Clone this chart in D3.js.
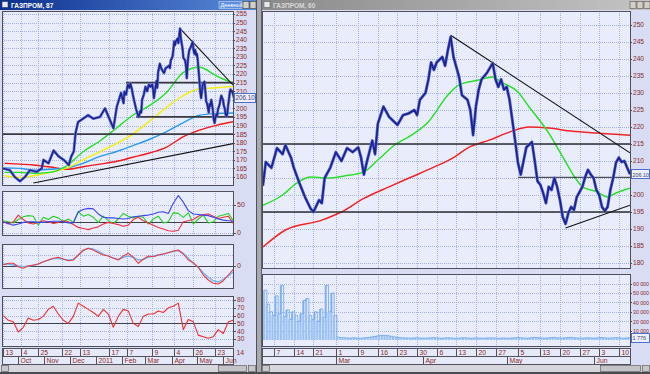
<!DOCTYPE html>
<html><head><meta charset="utf-8">
<script src="https://cdn.jsdelivr.net/npm/d3@7"></script>
<style>
html,body{margin:0;padding:0;background:#d9ddf3;overflow:hidden;}
svg{display:block;}
text{font-family:"Liberation Sans",Arial,sans-serif;}
</style></head><body>
<svg id="c" width="650" height="374"></svg>
<script>
// ================= DATA =================
const priceDates=["2010-09-13","2010-09-21","2010-09-27","2010-10-03","2010-10-09","2010-10-15","2010-10-23","2010-10-29","2010-10-31","2010-11-06","2010-11-12","2010-11-18","2010-11-24","2010-11-30","2010-12-03","2010-12-06","2010-12-08","2010-12-11","2010-12-17","2010-12-23","2010-12-29","2011-01-06","2011-01-12","2011-01-18","2011-01-22","2011-01-26","2011-01-31","2011-02-03","2011-02-04","2011-02-06","2011-02-08","2011-02-10","2011-02-11","2011-02-13","2011-02-14","2011-02-16","2011-02-18","2011-02-20","2011-02-21","2011-02-23","2011-02-24","2011-02-25","2011-02-27","2011-03-01","2011-03-03","2011-03-05","2011-03-07","2011-03-09","2011-03-10","2011-03-11","2011-03-12","2011-03-14","2011-03-15","2011-03-16","2011-03-18","2011-03-20","2011-03-23","2011-03-25","2011-03-27","2011-03-29","2011-03-30","2011-03-31","2011-04-02","2011-04-03","2011-04-04","2011-04-05","2011-04-06","2011-04-08","2011-04-09","2011-04-10","2011-04-11","2011-04-12","2011-04-14","2011-04-15","2011-04-17","2011-04-18","2011-04-19","2011-04-20","2011-04-21","2011-04-22","2011-04-24","2011-04-26","2011-04-27","2011-04-28","2011-04-29","2011-04-30","2011-05-01","2011-05-02","2011-05-03","2011-05-04","2011-05-05","2011-05-06","2011-05-07","2011-05-08","2011-05-10","2011-05-11","2011-05-12","2011-05-13","2011-05-14","2011-05-15","2011-05-16","2011-05-17","2011-05-18","2011-05-19","2011-05-20","2011-05-21","2011-05-22","2011-05-23","2011-05-24","2011-05-25","2011-05-26","2011-05-28","2011-05-29","2011-05-30","2011-05-31","2011-06-01","2011-06-02","2011-06-03","2011-06-04","2011-06-05","2011-06-06","2011-06-07","2011-06-08","2011-06-09","2011-06-10","2011-06-11","2011-06-12","2011-06-13","2011-06-14"];
const priceClose=[165,164,160,157.5,160,164,163,165,170,168,175.5,172,170,167,172,175,185.5,192,194,196,194,195,200,193,188.5,201,209,203,209.7,208,213.8,212,214.7,211,208,203.5,199.4,196,195,198.5,197.6,205,208,212.6,210,213.8,212.6,214,211,206,209.5,216,212,221,226,223,220.6,223.5,224,225,223.5,228,230,233.8,239,236.8,239,240.6,238,242.6,246.5,240.6,234.7,229.4,228,225,217.6,226,231,234,236,238.8,234,231.8,234,231,231.8,228,222,216,209.5,206,210,214,215.6,210,204,203,200.6,197.6,202.4,201.5,205,202.4,198.5,193.5,191.5,194.7,196.5,195.6,199.4,202.4,205.3,207.4,206,205,201.5,200,196.5,195.3,196.5,201.5,205,209.5,211,209.7,210,208,206.1];

const leftMaDates=["2010-09-15","2010-10-03","2010-10-19","2010-11-08","2010-11-28","2010-12-17","2011-01-06","2011-01-25","2011-02-14","2011-03-06","2011-03-26","2011-04-15","2011-05-04","2011-05-24","2011-06-13"];
const leftMaRed=[168,167.5,167,165.8,164.5,166,167.5,169,171.5,174,177.4,183.5,187.3,190.1,192.2];
const leftMaBlue=[165.3,165,164,164.5,165.3,168,172,174.7,178.3,182,186.5,191.7,196,197,197.3];
const leftMaYellow=[160.7,159.7,160.7,162.7,165.3,170,174.7,179.3,185,192.6,200.6,207.5,211.4,212,212.8];
const leftMaGreen=[162.7,162.7,162.2,162.7,166.7,174.7,181,188.3,196,201.7,209.3,221,224,219,214.7];

const rightGreenDates=["2011-02-03","2011-02-10","2011-02-15","2011-02-20","2011-02-26","2011-03-04","2011-03-11","2011-03-16","2011-03-22","2011-03-28","2011-04-03","2011-04-10","2011-04-14","2011-04-21","2011-04-26","2011-04-29","2011-05-05","2011-05-09","2011-05-14","2011-05-16","2011-05-21","2011-05-26","2011-05-28","2011-06-02","2011-06-06","2011-06-09","2011-06-14"];
const rightMaGreen=[197,200,203.5,205.3,205,205.6,206.8,210.3,214.7,217.6,221.5,229.4,232.4,233.8,234.7,233.2,230.3,225.9,220.6,218.2,211.2,204.4,202.4,201,199.4,200.6,202];
const rightRedDates=["2011-02-03","2011-02-11","2011-02-24","2011-03-03","2011-03-11","2011-03-20","2011-03-28","2011-04-05","2011-04-12","2011-04-17","2011-04-25","2011-05-02","2011-05-09","2011-05-16","2011-05-24","2011-06-02","2011-06-14"];
const rightMaRed=[184.7,189.7,192.6,195,199,202.4,205.3,208.2,211,213.8,216.2,218.5,220,219.7,218.8,218.2,217.6];

// support / resistance levels and trend lines
const leftLevels=[{v:185,from:"2010-09-13"},{v:215,from:"2011-02-06"},{v:195,from:"2011-02-18"}];
const leftTrends=[[["2011-04-10",247],["2011-06-14",213]],[["2010-10-19",156.5],["2011-06-14",179.6]]];
const rightLevels=[{v:215,from:"2011-02-03"},{v:195,from:"2011-02-03"},{v:205.2,from:"2011-05-05",thin:true}];
const rightTrends=[[["2011-04-11",247],["2011-06-14",212.4]],[["2011-05-22",190.3],["2011-06-14",197]]];

// left indicator panes, 47 evenly spaced samples across the left window
const dmiBlue=[20,17,14,16,19,20,20,19,19,20,21,21,20,18,18,38,42,44,43,34,28,27,27,26,25,26,29,30,31,32,34,37,38,35,53,67,55,40,34,33,32,31,28,25,23,22,21];
const dmiGreen=[22,20,18,24,29,31,30,14,28,24,30,27,20,25,19,38,30,33,28,19,30,22,17,25,35,30,27,30,28,16,25,30,18,20,36,35,28,36,16,25,32,18,20,30,32,35,22];
const dmiRed=[20,16,20,32,24,18,16,19,22,20,17,19,22,20,15,10,8,6,9,11,16,19,17,15,12,14,24,28,22,18,14,10,7,4,3,5,20,22,24,30,33,34,30,26,28,30,17];
const macdRed=[1,2.7,2.7,-0.7,-2.3,0,1,2,4.3,6,7.7,8.7,7,5.3,6,11,16,17.7,16,13.3,11,10,7.7,6,10,12.7,8.7,2.7,6.7,10,9.3,11,12,13.3,15,16,12,6,3.3,-1.3,-9,-14,-17.3,-18,-14.7,-9,-3.3];
const macdBlue=[2,2,1,0,-0.7,0,0.7,2,4,6,7.3,7.3,6.7,6,6.7,11,15.3,17.7,17,14.7,12,10,8,6.7,8.7,10,8.7,6,6.7,8.7,10,11,12,13.3,14.7,15.3,12.7,7.7,2.7,-1.3,-6.7,-11.3,-14.7,-16,-13.3,-10,-6];
const rsiRed=[60,54,52,39,45,57,54,55,59,68,72,62,54,50,59,76,72,68,64,59,68,62,45,59,68,66,50,46,59,62,62,66,64,70,72,76,42,55,52,35,33,31,33,42,37,52,54];

// right volume, daily from Feb 3 2011
const volumeStart="2011-02-03";
const volumes=[53000,38000,30000,26000,47000,28000,58000,25000,32000,22000,30000,26000,20000,28000,42000,44000,26000,22000,30000,20000,33000,24000,58000,30000,50000,26000,
3000,2600,2400,2200,2000,2100,2300,2000,1900,2200,2500,2800,3200,3800,4300,4700,4900,4800,4400,3900,3300,2800,2500,2300,2200,2100,2000,2200,2400,2200,2000,
2100,2000,2300,2500,2200,2000,1900,2100,2300,2200,2000,1800,2000,2200,2400,2100,1900,2000,2200,2100,2000,1900,2100,2300,2200,2000,1800,2000,2100,2000,
1900,2100,2300,2600,2400,2200,2000,2100,2500,2800,2600,2300,2100,2000,2200,2500,2700,2400,2200,2000,2300,2600,2800,2500,2200,2000,1900,2100,2300,2200,2000,
2100,2400,2600,2300,2100,2000,2200,2500,2300,2100,2000,2200,2400,2300];

// axis ticks
const leftTickDates=["2010-09-13","2010-10-04","2010-10-25","2010-11-22","2010-12-13","2011-01-17","2011-02-07","2011-03-09","2011-04-04","2011-04-26","2011-05-23","2011-06-14"];
const leftTickLabels=["13","4","25","22","13","17","7","9","4","26","23","14"];
const leftMonthDates=["2010-10-01","2010-11-01","2010-12-01","2011-01-01","2011-02-01","2011-03-01","2011-04-01","2011-05-01","2011-06-01"];
const leftMonthLabels=["Oct","Nov","Dec","2011","Feb","Mar","Apr","May","Jun"];
const rightTickDates=["2011-02-07","2011-02-14","2011-02-21","2011-03-01","2011-03-09","2011-03-16","2011-03-23","2011-03-30","2011-04-06","2011-04-13","2011-04-20","2011-04-27","2011-05-05","2011-05-13","2011-05-20","2011-05-27","2011-06-03","2011-06-10"];
const rightTickLabels=["7","14","21","1","9","16","23","30","6","13","20","27","5","13","20","27","3","10"];
const rightMonthDates=["2011-03-01","2011-04-01","2011-05-01","2011-06-01"];
const rightMonthLabels=["Mar","Apr","May","Jun"];
const leftPriceTicks=d3.range(160,256,5);
const rightPriceTicks=d3.range(180,251,5);
const volumeTicks=[10000,20000,30000,40000,50000,60000];
const rsiTicks=[30,40,50,60,70,80];
const lastPrice=206.10, lastVolume="1 776";

// ================= DRAW =================
const P=d3.timeParse("%Y-%m-%d");
const svg=d3.select("#c");
const defs=svg.append("defs");
const LBL="#8a2a2a", GRID="#a3b3e6";

let gradA=defs.append("linearGradient").attr("id","tA");
gradA.append("stop").attr("offset","0").attr("stop-color","#0c2f8f");
gradA.append("stop").attr("offset","1").attr("stop-color","#5a8ad8");
let gradI=defs.append("linearGradient").attr("id","tI");
gradI.append("stop").attr("offset","0").attr("stop-color","#8a8a8a");
gradI.append("stop").attr("offset","1").attr("stop-color","#c4c4c4");

svg.append("rect").attr("width",650).attr("height",374).attr("fill","#d9ddf3");

let clipN=0;
function clipRect(x0,y0,x1,y1){const id="cp"+(clipN++);defs.append("clipPath").attr("id",id).append("rect").attr("x",x0).attr("y",y0).attr("width",x1-x0).attr("height",y1-y0);return `url(#${id})`;}
function pane(x0,y0,x1,y1){
  svg.append("rect").attr("x",x0+.5).attr("y",y0+.5).attr("width",x1-x0-1).attr("height",y1-y0-1)
    .attr("fill","#e9edfb").attr("stroke","#4e4e5c").attr("stroke-width",1);
  return svg.append("g").attr("clip-path",clipRect(x0+1,y0+1,x1-1,y1-1));
}
function hGrid(g,x0,x1,ys){g.selectAll(null).data(ys).join("line").attr("x1",x0).attr("x2",x1).attr("y1",d=>Math.round(d)+.5).attr("y2",d=>Math.round(d)+.5).attr("stroke",GRID).attr("stroke-dasharray","1,1");}
function vGrid(g,y0,y1,xs){g.selectAll(null).data(xs).join("line").attr("y1",y0).attr("y2",y1).attr("x1",d=>Math.round(d)+.5).attr("x2",d=>Math.round(d)+.5).attr("stroke",GRID).attr("stroke-dasharray","1,1");}
// right-side value labels; a label hidden by the last-value box is not drawn (as in the reference)
function rLabels(x,ys,texts,fs,hideY){
  ys.forEach((y,i)=>{
    svg.append("line").attr("x1",x-3).attr("x2",x-1).attr("y1",Math.round(y)+.5).attr("y2",Math.round(y)+.5).attr("stroke","#505060");
    if(hideY!=null&&Math.abs(y-hideY)<6)return;
    svg.append("text").attr("x",x).attr("y",y+2.4).attr("font-size",fs||7).attr("fill",LBL).text(texts[i]);
  });
}
function drawLine(g,xs,ys,color,w,curve){
  const pts=xs.map((x,i)=>[x,ys[i]]);
  g.append("path").attr("d",d3.line().curve(curve||d3.curveLinear)(pts)).attr("fill","none").attr("stroke",color).attr("stroke-width",w).attr("stroke-linejoin","round");
}
function valueBox(x0,x1,y,txt,fs){
  svg.append("rect").attr("x",x0+.5).attr("y",Math.round(y)-4.5).attr("width",x1-x0-1).attr("height",9).attr("fill","#eef0fc").attr("stroke","#4d6fd0");
  svg.append("text").attr("x",x0+1.5).attr("y",y+2.3).attr("font-size",fs).attr("fill","#404070").text(txt);
}

// ---------- LEFT WINDOW ----------
const xL=d3.scaleTime().domain([P("2010-09-13"),P("2011-06-14")]).range([3,234]);
const yL=d3.scaleLinear().domain([160,255]).range([177,14]);
const leftTickX=leftTickDates.map(d=>xL(P(d)));

let g=pane(2,11,234,186);
hGrid(g,2,234,leftPriceTicks.map(yL));
vGrid(g,11,186,leftTickX);
const lmx=leftMaDates.map(d=>xL(P(d)));
drawLine(g,lmx,leftMaRed.map(yL),"#f01818",1.4,d3.curveMonotoneX);
drawLine(g,lmx,leftMaBlue.map(yL),"#2a9af0",1.4,d3.curveMonotoneX);
drawLine(g,lmx,leftMaYellow.map(yL),"#f4f000",1.4,d3.curveMonotoneX);
drawLine(g,lmx,leftMaGreen.map(yL),"#22e022",1.4,d3.curveMonotoneX);
leftLevels.forEach(l=>g.append("line").attr("x1",xL(P(l.from))).attr("x2",234).attr("y1",yL(l.v)).attr("y2",yL(l.v)).attr("stroke","#3a3a40").attr("stroke-width",1.8));
leftTrends.forEach(t=>g.append("line").attr("x1",xL(P(t[0][0]))).attr("y1",yL(t[0][1])).attr("x2",xL(P(t[1][0]))).attr("y2",yL(t[1][1])).attr("stroke","#101010").attr("stroke-width",1.1));
const pxL=priceDates.map(d=>xL(P(d)));
drawLine(g,pxL,priceClose.map(yL),"#6a78d8",2.8);
drawLine(g,pxL,priceClose.map(yL),"#1a238f",1.5);
rLabels(236,leftPriceTicks.map(yL),leftPriceTicks.map(String),6.6,yL(lastPrice));
valueBox(234,256,yL(lastPrice),lastPrice.toFixed(2),6.3);

const xi=d3.scaleLinear().domain([0,46]).range([3.3,233.3]);
const idx=d3.range(47).map(xi);
// pane 1
const y1=d3.scaleLinear().domain([0,50]).range([233,205]);
g=pane(2,191,234,236);
hGrid(g,2,234,[y1(0),y1(50)]);
vGrid(g,191,236,leftTickX);
g.append("line").attr("x1",2).attr("x2",234).attr("y1",Math.round(y1(20))+.5).attr("y2",Math.round(y1(20))+.5).attr("stroke","#404048");
drawLine(g,idx,dmiGreen.map(y1),"#22d022",1.1);
drawLine(g,idx,dmiRed.map(y1),"#f03040",1.1);
drawLine(g,idx,dmiBlue.map(y1),"#3a44f0",1.1);
rLabels(237,[y1(50),y1(0)],["50","0"],7);
// pane 2
const y2=d3.scaleLinear().domain([-22,21]).range([288,245]);
g=pane(2,244,234,289);
hGrid(g,2,234,[y2(-11),y2(11)]);
vGrid(g,244,289,leftTickX);
g.append("line").attr("x1",2).attr("x2",234).attr("y1",Math.round(y2(0))+.5).attr("y2",Math.round(y2(0))+.5).attr("stroke","#404048");
drawLine(g,idx,macdBlue.map(y2),"#68b4ff",1.3);
drawLine(g,idx,macdRed.map(y2),"#f03c3c",1.1);
rLabels(237,[y2(0)],["0"],7);
// pane 3
const y3=d3.scaleLinear().domain([30,80]).range([339,300]);
g=pane(2,296,234,347);
hGrid(g,2,234,rsiTicks.map(y3));
vGrid(g,296,347,leftTickX);
g.append("line").attr("x1",2).attr("x2",234).attr("y1",Math.round(y3(50))+.5).attr("y2",Math.round(y3(50))+.5).attr("stroke","#404048");
drawLine(g,idx,rsiRed.map(y3),"#f03030",1.1);
rLabels(237,rsiTicks.map(y3),rsiTicks.map(String),6.6);

// ---------- RIGHT WINDOW ----------
const xR=d3.scaleTime().domain([P("2011-02-03"),P("2011-06-14")]).range([263,630]);
const yR=d3.scaleLinear().domain([185,250]).range([246,25]);
const rightTickX=rightTickDates.map(d=>xR(P(d)));
g=pane(262,11,631,269);
hGrid(g,262,631,rightPriceTicks.map(yR));
vGrid(g,11,269,rightTickX);
drawLine(g,rightRedDates.map(d=>xR(P(d))),rightMaRed.map(yR),"#f02424",1.5,d3.curveMonotoneX);
drawLine(g,rightGreenDates.map(d=>xR(P(d))),rightMaGreen.map(yR),"#28e028",1.5,d3.curveMonotoneX);
rightLevels.forEach(l=>g.append("line").attr("x1",xR(P(l.from))).attr("x2",631).attr("y1",yR(l.v)).attr("y2",yR(l.v)).attr("stroke","#2c2c30").attr("stroke-width",l.thin?1:1.5));
rightTrends.forEach(t=>g.append("line").attr("x1",xR(P(t[0][0]))).attr("y1",yR(t[0][1])).attr("x2",xR(P(t[1][0]))).attr("y2",yR(t[1][1])).attr("stroke","#101010").attr("stroke-width",1.1));
const pxR=priceDates.map(d=>xR(P(d)));
drawLine(g,pxR,priceClose.map(yR),"#6070d8",3.0);
drawLine(g,pxR,priceClose.map(yR),"#1a238f",1.7);
rLabels(633,rightPriceTicks.map(yR),rightPriceTicks.map(String),6.6,yR(lastPrice));
valueBox(631,650,yR(lastPrice),lastPrice.toFixed(2),5.4);

// separator between price and volume
svg.append("rect").attr("x",262).attr("y",269).attr("width",369).attr("height",5).attr("fill","#d9ddf3");
// volume pane
const yV=d3.scaleLinear().domain([0,60000]).range([340,283.6]);
g=pane(262,274,631,347);
hGrid(g,262,631,volumeTicks.map(yV));
vGrid(g,274,347,rightTickX);
const v0=P(volumeStart);
g.selectAll(null).data(volumes).join("rect")
  .attr("x",(d,i)=>xR(d3.timeDay.offset(v0,i)))
  .attr("width",(d,i)=>xR(d3.timeDay.offset(v0,i+1))-xR(d3.timeDay.offset(v0,i))-0.6)
  .attr("y",d=>yV(d)).attr("height",d=>yV(0)-yV(d))
  .attr("fill","#9cc2f4");
drawLine(g,volumes.map((d,i)=>xR(d3.timeDay.offset(v0,i))+1.1),volumes.map(yV),"#6aa4ee",0.8,d3.curveStepAfter);
rLabels(633,volumeTicks.map(yV),volumeTicks.map(v=>d3.format(",")(v).replace(","," ")),5.2);
valueBox(631,650,yV(2600),lastVolume,5.4);

// ---------- DATE AXES ----------
function dateAxis(x,x0,x1,td,tl,md,ml){
  const a=svg.append("g");
  a.append("rect").attr("x",x0+.5).attr("y",348.5).attr("width",x1-x0-1).attr("height",8).attr("fill","#e6e9f8").attr("stroke","#50505e");
  a.append("rect").attr("x",x0+.5).attr("y",356.5).attr("width",x1-x0-1).attr("height",8).attr("fill","#e6e9f8").attr("stroke","#50505e");
  td.forEach((d,i)=>{const px=Math.round(x(P(d)))+.5;
    if(px>x0+1&&px<x1-1)a.append("line").attr("x1",px).attr("x2",px).attr("y1",348.5).attr("y2",356.5).attr("stroke","#50505e");
    a.append("text").attr("x",px+2).attr("y",355.3).attr("font-size",6.8).attr("fill",LBL).text(tl[i]);});
  md.forEach((d,i)=>{const px=Math.round(x(P(d)))+.5;
    a.append("line").attr("x1",px).attr("x2",px).attr("y1",356.5).attr("y2",364.5).attr("stroke","#50505e");
    a.append("text").attr("x",px+2).attr("y",363.3).attr("font-size",6.8).attr("fill",LBL).text(ml[i]);});
}
dateAxis(xL,2,234,leftTickDates,leftTickLabels,leftMonthDates,leftMonthLabels);
dateAxis(xR,262,631,rightTickDates,rightTickLabels,rightMonthDates,rightMonthLabels);

// ---------- WINDOW CHROME ----------
svg.append("rect").attr("x",0).attr("y",0).attr("width",256).attr("height",10).attr("fill","url(#tA)");
svg.append("rect").attr("x",2).attr("y",1.5).attr("width",6).attr("height",6).attr("fill","#e8e8f8").attr("stroke","#203070").attr("stroke-width",.6);
svg.append("text").attr("x",11).attr("y",7.8).attr("font-size",6.5).attr("font-weight","bold").attr("fill","#ffffff").text("ГАЗПРОМ, 87");
svg.append("rect").attr("x",219).attr("y",1.5).attr("width",23).attr("height",7).attr("fill","#5c8ee0").attr("stroke","#c8d8f8").attr("stroke-width",.6);
svg.append("text").attr("x",220.5).attr("y",7.4).attr("font-size",5.6).attr("fill","#ffffff").text("Дневной");
[243,250].forEach(x=>{svg.append("rect").attr("x",x).attr("y",1.5).attr("width",6).attr("height",7).attr("fill","#d4d0c8").attr("stroke","#404040").attr("stroke-width",.6);});
svg.append("rect").attr("x",262).attr("y",0).attr("width",388).attr("height",10).attr("fill","url(#tI)");
svg.append("rect").attr("x",264).attr("y",1.5).attr("width",6).attr("height",6).attr("fill","#e8e8f0").attr("stroke","#606060").attr("stroke-width",.6);
svg.append("text").attr("x",273).attr("y",7.8).attr("font-size",6.5).attr("font-weight","bold").attr("fill","#d8d8d8").text("ГАЗПРОМ, 60");
[630,637,644].forEach(x=>{svg.append("rect").attr("x",x).attr("y",1.5).attr("width",6).attr("height",7).attr("fill","#d4d0c8").attr("stroke","#505050").attr("stroke-width",.6);});
svg.append("rect").attr("x",256).attr("y",0).attr("width",6).attr("height",374).attr("fill","#a9a9b0");
svg.append("line").attr("x1",256.5).attr("x2",256.5).attr("y1",0).attr("y2",374).attr("stroke","#505058");
svg.append("line").attr("x1",261.5).attr("x2",261.5).attr("y1",0).attr("y2",374).attr("stroke","#606068");
function scrollBar(x0,x1,t0,t1){
  svg.append("rect").attr("x",x0).attr("y",365).attr("width",x1-x0).attr("height",7).attr("fill","#d6d6dc");
  [[x0,x0+8],[x1-8,x1]].forEach(b=>svg.append("rect").attr("x",b[0]+.5).attr("y",365.5).attr("width",7).attr("height",6).attr("fill","#c8c8cc").attr("stroke","#505050").attr("stroke-width",.6));
  svg.append("rect").attr("x",t0+.5).attr("y",365.5).attr("width",t1-t0).attr("height",6).attr("fill","#c4c4c8").attr("stroke","#505050").attr("stroke-width",.6);
}
scrollBar(1,256,218,246);
scrollBar(262,650,600,640);
svg.append("rect").attr("x",0).attr("y",372).attr("width",650).attr("height",2).attr("fill","#4a4a50");
</script></body></html>
